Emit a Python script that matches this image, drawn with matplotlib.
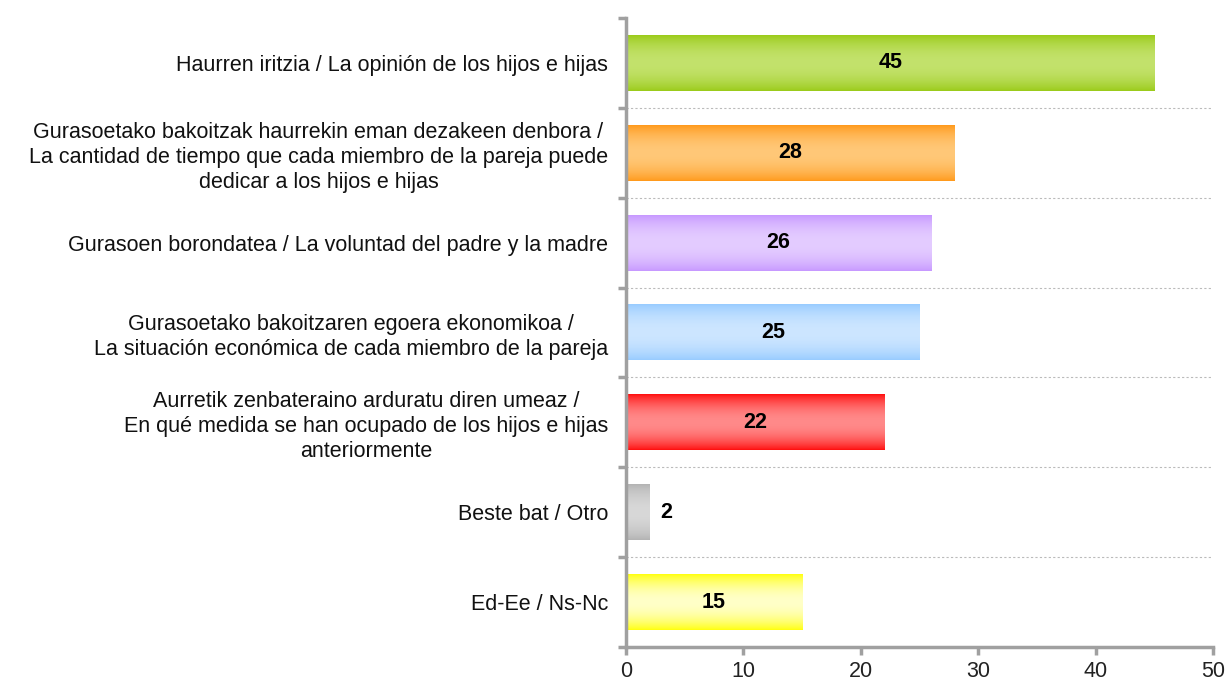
import numpy as np
import matplotlib.pyplot as plt
from matplotlib.colors import to_rgb
from matplotlib.ticker import FixedLocator
from matplotlib.transforms import offset_copy

plt.rcParams['font.family'] = ['Liberation Sans', 'DejaVu Sans']

labels = [
    "Haurren iritzia / La opinión de los hijos e hijas",
    "Gurasoetako bakoitzak haurrekin eman dezakeen denbora /\nLa cantidad de tiempo que cada miembro de la pareja puede\ndedicar a los hijos e hijas",
    "Gurasoen borondatea / La voluntad del padre y la madre",
    "Gurasoetako bakoitzaren egoera ekonomikoa /\nLa situación económica de cada miembro de la pareja",
    "Aurretik zenbateraino arduratu diren umeaz /\nEn qué medida se han ocupado de los hijos e hijas\nanteriormente",
    "Beste bat / Otro",
    "Ed-Ee / Ns-Nc",
]
values = [45, 28, 26, 25, 22, 2, 15]
edge_colors = ["#9BCB1A", "#FF9A1C", "#C799FF", "#99CCFF", "#FF1010", "#B4B4B4", "#FFFF10"]
mid_colors = ["#C3E26C", "#FFC878", "#E4CCFF", "#CDE6FF", "#FF8A8A", "#D8D8D8", "#FFFFC8"]

fig = plt.figure(figsize=(12.28, 6.82), dpi=100)
ax = fig.add_axes([0.5098, 0.0513, 0.4780, 0.9223])

pos = np.arange(len(values))
bars = ax.barh(pos, values, height=0.62, color="none")

# vertical gradient: darker at top/bottom edges, lighter in the middle
t = np.linspace(0, 1, 64)
w = np.sin(np.pi * t) ** 0.8
for b, e, m in zip(bars, edge_colors, mid_colors):
    e, m = np.array(to_rgb(e)), np.array(to_rgb(m))
    grad = e[None, :] + (m - e)[None, :] * w[:, None]
    img = np.repeat(grad[:, None, :], 2, axis=1)
    x0, y0 = b.get_x(), b.get_y()
    ax.imshow(img, extent=[x0, x0 + b.get_width(), y0 + b.get_height(), y0],
              aspect="auto", interpolation="bilinear", zorder=2)

for b, v in zip(bars, values):
    cy = b.get_y() + b.get_height() / 2
    if v < 5:
        ax.text(v + 0.9, cy, str(v), ha="left", va="center",
                fontsize=15.5, fontweight="bold", zorder=3)
    else:
        ax.text(v / 2, cy, str(v), ha="center", va="center",
                fontsize=15.5, fontweight="bold", zorder=3)

ax.set_xlim(0, 50)
ax.set_ylim(len(values) - 0.5, -0.5)
ax.set_xticks(range(0, 51, 10))
ax.set_yticks(pos)
ax.set_yticklabels(labels, ha="center", multialignment="center", linespacing=1.25)
ax.yaxis.set_minor_locator(FixedLocator(np.arange(-0.5, len(values), 1.0)))

ax.tick_params(axis="y", which="major", length=0, pad=0, labelsize=15.5, labelcolor="#111111")
ax.tick_params(axis="y", which="minor", length=6, width=2.5, color="#A0A0A0")
ax.tick_params(axis="x", length=6, width=2.5, color="#A0A0A0", labelsize=15.5,
               labelcolor="#222222", pad=4)

# center each multi-line label, right edge at a fixed gap from the axis
fig.canvas.draw()
renderer = fig.canvas.get_renderer()
for tl in ax.get_yticklabels():
    wd = tl.get_window_extent(renderer).width
    tl.set_transform(offset_copy(ax.get_yaxis_transform(), fig=fig,
                                 x=-(18 + wd / 2), y=0, units="dots"))

for b in np.arange(0.5, len(values) - 1, 1.0):
    ax.axhline(b, color="#BBBBBB", linestyle=(0, (2, 2)), linewidth=0.8, zorder=1)

for s in ["top", "right"]:
    ax.spines[s].set_visible(False)
for s in ["left", "bottom"]:
    ax.spines[s].set_color("#A0A0A0")
    ax.spines[s].set_linewidth(2.5)

fig.savefig("out.png", dpi=100)
